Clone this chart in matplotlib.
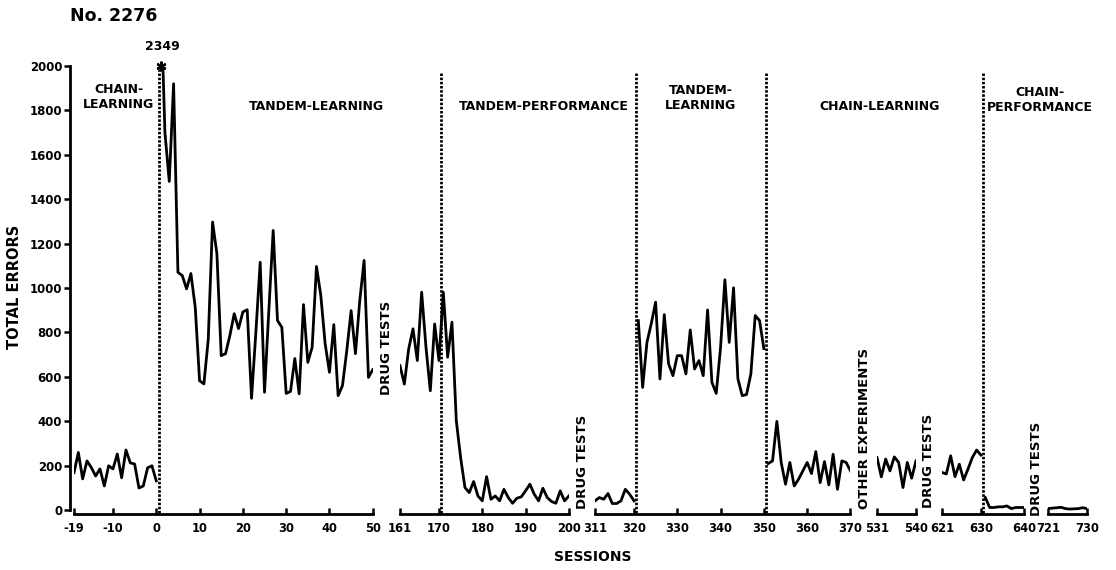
import numpy as np
import matplotlib.pyplot as plt

plt.rcParams['font.family'] = 'DejaVu Sans'
plt.rcParams['font.weight'] = 'bold'
plt.rcParams['axes.unicode_minus'] = False

# session blocks: first session number and total errors per session
chain_learn_a_start = -19
chain_learn_a = [168, 259, 140, 221, 191, 153, 185, 108, 199, 185,
                 252, 145, 270, 212, 207, 99, 108, 190, 199, 131]

tandem_learn_a_start = 1
tandem_learn_a = [2349, 1700, 1480, 1920, 1071, 1056, 996, 1065, 913, 582,
                  568, 767, 1297, 1155, 695, 704, 786, 884, 817, 892,
                  902, 503, 800, 1116, 530, 900, 1259, 853, 823, 525,
                  534, 682, 523, 925, 665, 733, 1097, 966, 749, 620,
                  835, 515, 560, 718, 898, 704, 944, 1124, 597, 632]

tandem_b_start = 161
tandem_b = [650, 567, 725, 816, 673, 981, 733, 537, 838, 673,
            981, 688, 846, 402, 236, 101, 78, 128, 63, 41,
            150, 48, 63, 41, 93, 56, 30, 53, 59, 86,
            116, 71, 41, 98, 56, 38, 30, 86, 41, 63]

drug_b_start = 311
drug_b = [41, 56, 48, 74, 29, 29, 41, 93, 71, 41]

tandem_learn_c_start = 321
tandem_learn_c = [853, 552, 755, 840, 936, 590, 880, 658, 605, 695,
                  695, 613, 811, 635, 673, 605, 901, 575, 525, 733,
                  1037, 755, 1001, 591, 515, 520, 613, 876, 853, 727]

chain_learn_b_start = 351
chain_learn_b = [209, 221, 399, 214, 116, 214, 108, 138, 176, 214,
                 164, 263, 123, 218, 113, 251, 93, 221, 214, 176]

chain_learn_c_start = 531
chain_learn_c = [236, 149, 229, 176, 239, 214, 101, 214, 143, 221]

chain_learn_d_start = 621
chain_learn_d = [169, 162, 244, 150, 206, 135, 184, 236, 270, 247]

chain_perf_a_start = 631
chain_perf_a = [56, 11, 11, 14, 14, 18, 6, 11, 11, 11]

chain_perf_b_start = 721
chain_perf_b = [6, 8, 10, 12, 6, 4, 5, 6, 10, 6]

# axis pieces and their ticks
seg_ranges = [(-19, 50), (161, 200), (311, 370), (531, 540), (621, 640), (721, 730)]
seg_left_px = [74, 400, 595, 877, 942, 1048]
seg_ticks = [[-19, -10, 0, 10, 20, 30, 40, 50],
             [161, 170, 180, 190, 200],
             [311, 320, 330, 340, 350, 360, 370],
             [531, 540],
             [621, 630, 640],
             [721, 730]]

# phase boundaries (session, top of dotted line)
boundaries = [(0.7, 2000), (170.5, 1970), (320.5, 1970), (350.5, 1970), (630.5, 1970)]

W, H = 1116, 570
PX = 4.33
Y_BOT, Y_TOP = 513.5, 66

fig = plt.figure(figsize=(W / 100, H / 100), dpi=100)


def fpos(x, y):
    return x / W, 1 - y / H


axes = []
for (lo, hi), left, tk in zip(seg_ranges, seg_left_px, seg_ticks):
    ax = fig.add_axes([left / W, 1 - Y_BOT / H, (hi - lo) * PX / W, (Y_BOT - Y_TOP) / H])
    ax.set_xlim(lo, hi)
    ax.set_ylim(-16, 2000)
    ax.patch.set_visible(False)
    for side in ['top', 'right', 'left']:
        ax.spines[side].set_visible(False)
    ax.spines['bottom'].set_linewidth(2)
    ax.set_xticks(tk)
    ax.tick_params(axis='x', direction='in', length=4, width=1.8, pad=6, labelsize=8.3)
    ax.set_yticks([])
    axes.append(ax)

ax0 = axes[0]
ax0.spines['left'].set_visible(True)
ax0.spines['left'].set_linewidth(2)
ax0.spines['left'].set_position(('outward', 3))
ax0.spines['left'].set_bounds(0, 2000)
ax0.set_yticks(range(0, 2001, 200))
ax0.tick_params(axis='y', direction='out', length=4.5, width=1.8, pad=1, labelsize=8.5)


def axis_for(session):
    for ax, (lo, hi) in zip(axes, seg_ranges):
        if lo <= session <= hi:
            return ax


series = [(chain_learn_a_start, chain_learn_a),
          (tandem_learn_a_start, tandem_learn_a),
          (tandem_b_start, tandem_b),
          (drug_b_start, drug_b),
          (tandem_learn_c_start, tandem_learn_c),
          (chain_learn_b_start, chain_learn_b),
          (chain_learn_c_start, chain_learn_c),
          (chain_learn_d_start, chain_learn_d),
          (chain_perf_a_start, chain_perf_a),
          (chain_perf_b_start, chain_perf_b)]

for start, vals in series:
    x = np.arange(start, start + len(vals))
    axis_for(start).plot(x, vals, color='black', lw=2)

for sess, top in boundaries:
    axis_for(sess).vlines(sess, -12, top, colors='black', lw=2,
                          linestyles=(0, (0.9, 0.6)), clip_on=False)

# off-scale first tandem session
ax0.plot(tandem_learn_a_start, 2000, marker=(6, 2, 0), ms=7, mew=1.6,
         color='black', clip_on=False)
ax0.annotate(str(tandem_learn_a[0]), xy=(tandem_learn_a_start, 2000), xytext=(1, 9),
             textcoords='offset points', ha='center', va='bottom', fontsize=9)

fig.text(*fpos(70, 16), 'No. 2276', fontsize=12.5, ha='left', va='center')
fig.text(*fpos(15, 287), 'TOTAL ERRORS', fontsize=10.5, rotation=90, ha='center', va='center')
fig.text(*fpos(593, 557), 'SESSIONS', fontsize=10, ha='center', va='center')

phase_labels = [('CHAIN-\nLEARNING', 119, 97),
                ('TANDEM-LEARNING', 316, 106),
                ('TANDEM-PERFORMANCE', 544, 106),
                ('TANDEM-\nLEARNING', 701, 98),
                ('CHAIN-LEARNING', 880, 107),
                ('CHAIN-\nPERFORMANCE', 1040, 100)]
for txt, x, y in phase_labels:
    fig.text(*fpos(x, y), txt, fontsize=9, ha='center', va='center',
             multialignment='center', linespacing=1.15)

side_labels = [('DRUG TESTS', 387, 348),
               ('DRUG TESTS', 582, 462),
               ('OTHER EXPERIMENTS', 864, 428),
               ('DRUG TESTS', 928, 461),
               ('DRUG TESTS', 1036, 469)]
for txt, x, y in side_labels:
    fig.text(*fpos(x, y), txt, fontsize=9.5, rotation=90, ha='center', va='center')

fig.savefig('out.png', dpi=100)
